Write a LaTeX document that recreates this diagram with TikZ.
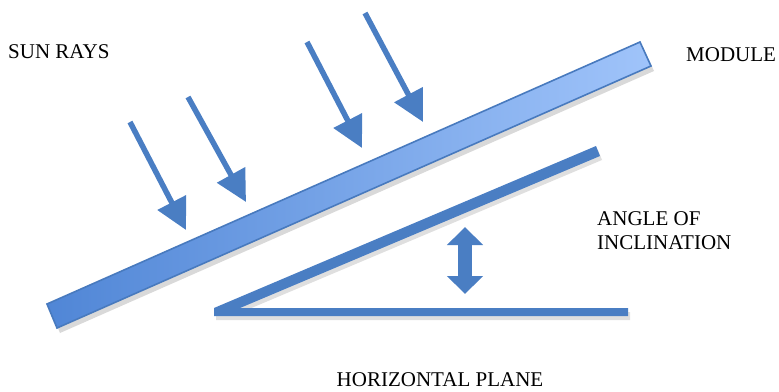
\documentclass[tikz,border=0pt]{standalone}
\usepackage{fontspec}
\setmainfont{Liberation Serif}
\usetikzlibrary{arrows.meta,shadows}
\definecolor{raycol}{RGB}{74,126,195}
\definecolor{barlight}{RGB}{160,196,250}
\definecolor{barmid}{RGB}{96,148,224}
\definecolor{bardark}{RGB}{80,134,214}
\definecolor{baredge}{RGB}{72,122,190}
\tikzset{
  label/.style={font=\fontsize{21}{24}\selectfont, inner sep=0pt},
  ray/.style={raycol, line width=5.5pt, -{Triangle[width=31pt,length=31pt]}},
  soft/.style={drop shadow={opacity=0.25, shadow xshift=2pt, shadow yshift=-4pt}},
}
\begin{document}
\begin{tikzpicture}[x=1pt,y=-1pt]
    \useasboundingbox (0,0) rectangle (779,391);
    % module
    \coordinate (m1) at (47,304);
    \coordinate (m2) at (640,42);
    \coordinate (m3) at (651,66);
    \coordinate (m4) at (57,328);
    \shade[left color=bardark, middle color=barmid, right color=barlight, draw=baredge, line width=1.6pt,
        drop shadow={opacity=0.3, shadow xshift=3pt, shadow yshift=-5pt}]
        (m1) -- (m2) -- (m3) -- (m4) -- cycle;
    % angle of inclination
    \coordinate (o) at (218,312);
    \coordinate (incl) at (598,151);
    \coordinate (horiz) at (628,312);
    \fill[raycol, soft]
        (214,316) -- (214,308) -- (596,146) -- (600,156) -- (240,308) -- (628,308) -- (628,316) -- cycle;
    % double arrow
    \coordinate (up) at (465,227);
    \coordinate (down) at (465,294);
    \draw[raycol, line width=14pt, {Triangle[width=35pt,length=18pt]}-{Triangle[width=35pt,length=18pt]}] (up) -- (down);
    % sun rays
    \coordinate (r1a) at (130,122); \coordinate (r1b) at (186,230);
    \coordinate (r2a) at (188,97);  \coordinate (r2b) at (246,202);
    \coordinate (r3a) at (307,42);  \coordinate (r3b) at (362,148);
    \coordinate (r4a) at (365,13);  \coordinate (r4b) at (423,122);
    \foreach \r in {1,...,4}
        \draw[ray] (r\r a) -- (r\r b);
    % labels
    \node[label, anchor=west] (sun) at (8,52) {SUN RAYS};
    \node[label, anchor=west] (module) at (686,55) {MODULE};
    \node[label, anchor=west, align=left] (angle) at (597,231) {ANGLE OF\\INCLINATION};
    \node[label] (hplane) at (440,380) {HORIZONTAL PLANE};
\end{tikzpicture}
\end{document}
